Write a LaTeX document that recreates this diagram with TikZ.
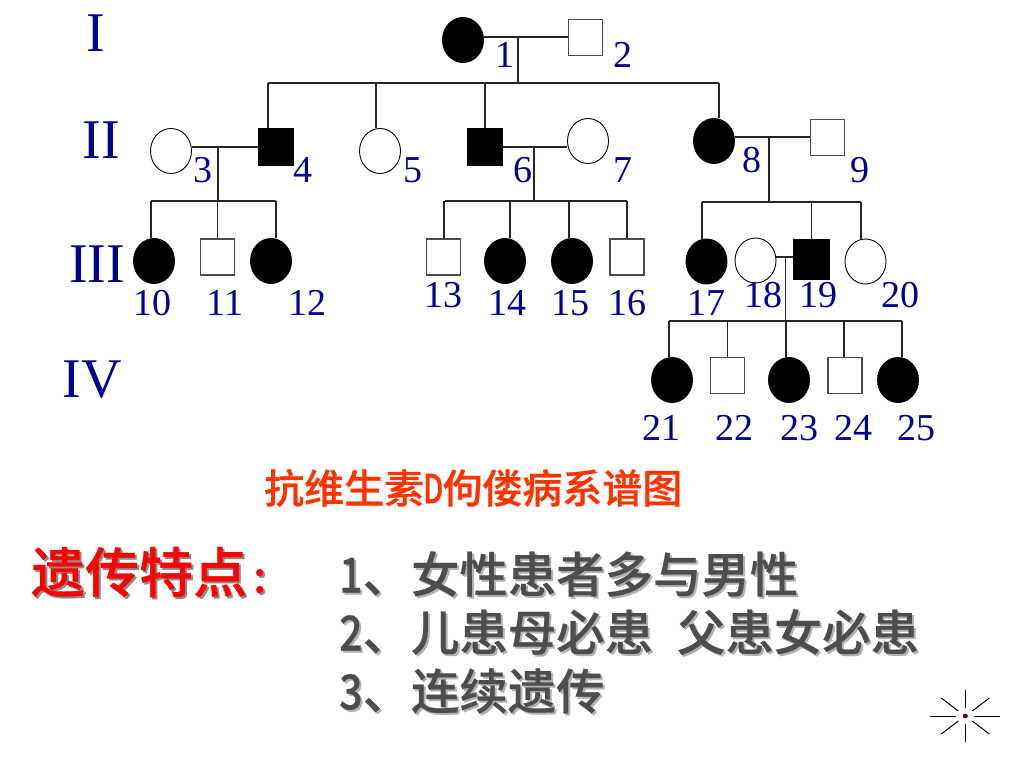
\documentclass[tikz,border=0pt]{standalone}
\usepackage{fontspec}
\setmainfont{Liberation Serif}
\newfontfamily\cjk{Noto Sans CJK SC Medium}[FakeBold=0.7]
\newfontfamily\cjkbody{Noto Sans CJK SC Medium}[FakeBold=0.4]
\usetikzlibrary{shapes.geometric}
\definecolor{navytext}{RGB}{0,0,145}
\definecolor{titlered}{RGB}{255,51,0}
\definecolor{bodygray}{RGB}{77,77,77}
\tikzset{
  female/.style={ellipse,draw=black,fill=white,line width=0.9pt,inner sep=0pt,minimum width=41pt,minimum height=45pt},
  male/.style={rectangle,draw=black!70,fill=white,line width=1.1pt,inner sep=0pt,minimum width=34pt,minimum height=36pt},
  ill/.style={fill=black,draw=black},
  numtext/.style={text=navytext,inner sep=0pt,font=\fontsize{38}{38}\selectfont},
  gentext/.style={text=navytext,inner sep=0pt,font=\fontsize{56}{56}\selectfont},
  link/.style={line width=1.2pt,draw=black!85},
  cjktext/.style={inner sep=0pt,anchor=west,text=bodygray,font=\cjkbody\fontsize{48.4}{48.4}\selectfont}
}
\newcommand{\drawnum}[3]
{
  \node[numtext] (l#1) at (#2,#3) {#1};
}
\newcommand{\shadowtxt}[2]
{%
  \rlap{\kern2pt\raisebox{-2pt}{\textcolor{#1}{#2}}}#2%
}
\begin{document}
\begin{tikzpicture}[x=1pt,y=-1pt]
    \useasboundingbox (0,0) rectangle (1024,768);

    % generation I
    \node[female,ill] (n1) at (463,40) {};
    \node[male] (n2) at (585.5,37.5) {};
    % generation II
    \node[female] (n3) at (171,151) {};
    \node[male,ill] (n4) at (276,147) {};
    \node[female] (n5) at (380,151) {};
    \node[male,ill] (n6) at (485,147) {};
    \node[female] (n7) at (588,141) {};
    \node[female,ill] (n8) at (714,141) {};
    \node[male] (n9) at (827.5,137.5) {};
    % generation III
    \node[female,ill] (n10) at (154,261) {};
    \node[male] (n11) at (217.5,257) {};
    \node[female,ill] (n12) at (271,261) {};
    \node[male] (n13) at (443.5,257) {};
    \node[female,ill] (n14) at (505,261) {};
    \node[female,ill] (n15) at (572,261) {};
    \node[male] (n16) at (627,257) {};
    \node[female,ill] (n17) at (706.5,261.5) {};
    \node[female] (n18) at (755.5,260.5) {};
    \node[male,ill,minimum width=35pt,minimum height=39pt] (n19) at (811.5,259.5) {};
    \node[female] (n20) at (865.5,261.5) {};
    % generation IV
    \node[female,ill] (n21) at (672,380) {};
    \node[male] (n22) at (727.5,375.5) {};
    \node[female,ill] (n23) at (789,380) {};
    \node[male] (n24) at (845,375.5) {};
    \node[female,ill] (n25) at (898,380) {};

    % couples and their bars
    \coordinate (c1) at (518,37);  \coordinate (b1) at (518,83);
    \coordinate (c2) at (218,147); \coordinate (b2) at (218,201);
    \coordinate (c3) at (534,147); \coordinate (b3) at (534,201);
    \coordinate (c4) at (769,137); \coordinate (b4) at (769,202);
    \coordinate (c5) at (785.7,257); \coordinate (b5) at (785.7,321);

    \draw[link] (n1.east |- c1) -- (n2.west |- c1);
    \draw[link] (n3.east |- c2) -- (n4.west |- c2);
    \draw[link] (n6.east |- c3) -- (n7.west |- c3);
    \draw[link] (n8.east |- c4) -- (n9.west |- c4);
    \draw[link] (n18.east |- c5) -- (n19.west |- c5);
    \foreach \i in {1,...,5}
      \draw[link] (c\i) -- (b\i);

    \draw[link] ([xshift=-8]n4.north |- b1) -- ([xshift=5]n8.north |- b1);
    \draw[link] ([xshift=-3]n10.north |- b2) -- ([xshift=5]n12.north |- b2);
    \draw[link] ([xshift=1]n13.north |- b3) -- (n16.north |- b3);
    \draw[link] ([xshift=-4.5]n17.north |- b4) -- ([xshift=-4.5]n20.north |- b4);
    \draw[link] ([xshift=-3]n21.north |- b5) -- ([xshift=4]n25.north |- b5);

    % drops from the bars down to the children
    \foreach \c/\d in {n4/-8,n5/-4,n6/0,n8/5}
      \draw[link] ([xshift=\d]\c.north) -- ([xshift=\d]\c.north |- b1);
    \foreach \c/\d in {n10/-3,n11/0,n12/5}
      \draw[link] ([xshift=\d]\c.north) -- ([xshift=\d]\c.north |- b2);
    \foreach \c/\d in {n13/0.5,n14/5,n15/-3,n16/0}
      \draw[link] ([xshift=\d]\c.north) -- ([xshift=\d]\c.north |- b3);
    \foreach \c/\d in {n17/-4.5,n19/0,n20/-4.5}
      \draw[link] ([xshift=\d]\c.north) -- ([xshift=\d]\c.north |- b4);
    \foreach \c/\d in {n21/-3,n22/0,n23/-3,n24/-1,n25/4}
      \draw[link] ([xshift=\d]\c.north) -- ([xshift=\d]\c.north |- b5);

    % numbers
    \drawnum{1}{505}{55}   \drawnum{2}{623}{55}
    \drawnum{3}{203}{170}  \drawnum{4}{303}{170}
    \drawnum{5}{413}{170}  \drawnum{6}{523}{170}
    \drawnum{7}{623}{170}  \drawnum{8}{752}{160}
    \drawnum{9}{860}{170}
    \drawnum{10}{152}{303} \drawnum{11}{225}{303}
    \drawnum{12}{307}{303} \drawnum{13}{443}{295}
    \drawnum{14}{507}{303} \drawnum{15}{570}{303}
    \drawnum{16}{627}{303} \drawnum{17}{706}{303}
    \drawnum{18}{763}{295} \drawnum{19}{818}{295}
    \drawnum{20}{900}{295}
    \drawnum{21}{661}{428} \drawnum{22}{734}{428}
    \drawnum{23}{799}{428} \drawnum{24}{853}{428}
    \drawnum{25}{916}{428}

    % generations
    \node[gentext] (g1) at (96,33) {I};
    \node[gentext] (g2) at (101,140) {II};
    \node[gentext] (g3) at (97,264) {III};
    \node[gentext] (g4) at (92,380) {IV};

    % texts
    \node[cjktext,text=titlered,font=\cjk\fontsize{40}{40}\selectfont] (title) at (264,488)
      {抗维生素\kern-1pt\scalebox{.72}[1]{D}\kern-1pt 佝偻病系谱图};
    \node[cjktext,text=red,font=\cjk\fontsize{54}{54}\selectfont] (head) at (31,573)
      {\shadowtxt{black!45}{遗传特点\kern6pt\scalebox{.8}{:}}};
    \node[cjktext] (line1) at (339,575)
      {\shadowtxt{black!30}{\scalebox{.85}[1]{1}、女性患者多与男性}};
    \node[cjktext] (line2) at (339,633)
      {\shadowtxt{black!30}{\scalebox{.85}[1]{2}、儿患母必患\kern24pt 父患女必患}};
    \node[cjktext] (line3) at (339,692)
      {\shadowtxt{black!30}{\scalebox{.85}[1]{3}、连续遗传}};

    % star in the corner
    \fill[black!50!red!80!black] (965.3,716) circle (2.5);
    \foreach \ax/\ay/\bx/\by in {9/0/35/0,-9/0/-35/0,0/8/0/26,0/-8/0/-26,7/5/24/18,-7/5/-24/18,7/-5/24/-18,-7/-5/-24/-18}
      \draw[line width=1pt,black] (965.3+\ax,716+\ay) -- (965.3+\bx,716+\by);
\end{tikzpicture}
\end{document}
